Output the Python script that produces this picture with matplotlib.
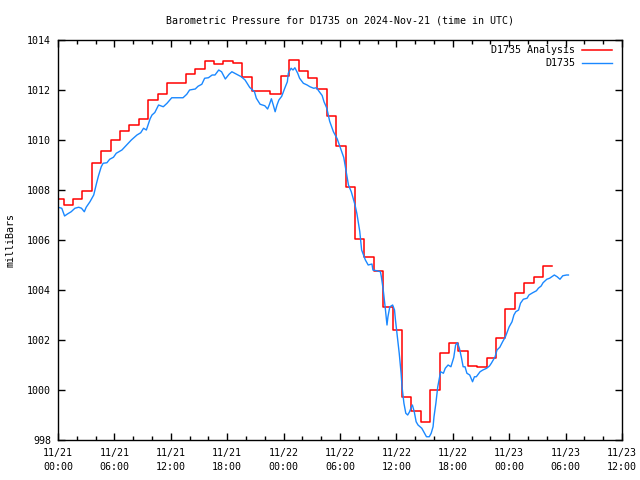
import matplotlib
matplotlib.use("Agg")
import matplotlib.pyplot as plt
from matplotlib.ticker import MultipleLocator

# hours since 2024-11-21 00:00 UTC
analysis_hours = [0.0, 0.6, 1.6, 2.6, 3.6, 4.6, 5.6, 6.6, 7.6, 8.6, 9.6, 10.6,
                  11.6, 13.6, 14.6, 15.6, 16.6, 17.6, 18.6, 19.6, 20.6, 22.6,
                  23.75, 24.6, 25.6, 26.6, 27.6, 28.6, 29.6, 30.6, 31.6, 32.6,
                  33.6, 34.6, 35.6, 36.6, 37.6, 38.6, 39.6, 40.6, 41.6, 42.6,
                  43.6, 44.6, 45.6, 46.6, 47.6, 48.6, 49.6, 50.6, 51.6, 52.5]
analysis_mb = [1007.63, 1007.40, 1007.64, 1007.96, 1009.08, 1009.56, 1009.99,
               1010.36, 1010.60, 1010.84, 1011.60, 1011.83, 1012.27, 1012.63,
               1012.85, 1013.16, 1013.06, 1013.16, 1013.07, 1012.51, 1011.95,
               1011.83, 1012.57, 1013.19, 1012.76, 1012.47, 1012.05, 1010.98,
               1009.77, 1008.14, 1006.04, 1005.33, 1004.76, 1003.31, 1002.40,
               999.73, 999.15, 998.71, 1000.00, 1001.48, 1001.87, 1001.56,
               1000.96, 1000.91, 1001.27, 1002.10, 1003.23, 1003.90, 1004.27,
               1004.52, 1004.96, 1004.96]

obs_hours = [0.0, 0.4, 0.7, 1.0, 1.4, 1.8, 2.2, 2.5, 2.8, 3.0, 3.4, 3.8, 4.1,
             4.3, 4.6, 4.8, 5.2, 5.5, 5.9, 6.2, 6.8, 7.3, 7.8, 8.4, 8.8, 9.1,
             9.4, 9.8, 10.0, 10.3, 10.7, 11.2, 11.6, 12.1, 12.8, 13.3, 13.7,
             14.0, 14.6, 14.9, 15.3, 15.6, 16.0, 16.4, 16.7, 17.1, 17.4, 17.8,
             18.2, 18.5, 19.0, 19.5, 19.9, 20.4, 20.9, 21.1, 21.5, 22.0, 22.3,
             22.5, 22.7, 22.9, 23.1, 23.3, 23.5, 23.8, 24.1, 24.4, 24.5, 24.8,
             25.0, 25.2, 25.5, 25.7, 26.1, 26.5, 26.8, 27.2, 27.5, 27.8, 28.1,
             28.3, 28.6, 28.9, 29.3, 29.7, 30.0, 30.4, 30.6, 30.9, 31.2, 31.6,
             31.8, 32.1, 32.3, 32.7, 33.0, 33.4, 33.5, 33.9, 34.3, 34.4, 34.6,
             34.8, 35.0, 35.1, 35.3, 35.6, 35.8, 35.9, 36.1, 36.3, 36.5, 36.6,
             36.8, 37.0, 37.2, 37.4, 37.6, 37.7, 37.9, 38.1, 38.3, 38.7, 39.0,
             39.2, 39.5, 39.7, 39.9, 40.0, 40.2, 40.4, 40.6, 40.7, 41.0, 41.2,
             41.5, 41.8, 42.1, 42.3, 42.5, 42.7, 42.9, 43.1, 43.3, 43.5, 43.8,
             44.1, 44.3, 44.5, 44.9, 45.2, 45.6, 45.9, 46.1, 46.5, 46.7, 47.0,
             47.3, 47.6, 47.8, 48.0, 48.3, 48.5, 48.7, 49.0, 49.2, 49.5, 49.9,
             50.1, 50.5, 50.9, 51.1, 51.4, 51.6, 52.0, 52.3, 52.8, 53.1, 53.4,
             53.7, 54.1, 54.3]
obs_mb = [1007.31, 1007.27, 1006.96, 1007.04, 1007.13, 1007.27, 1007.31,
          1007.27, 1007.13, 1007.31, 1007.53, 1007.80, 1008.27, 1008.56,
          1008.93, 1009.07, 1009.09, 1009.23, 1009.31, 1009.47, 1009.60,
          1009.80, 1010.00, 1010.20, 1010.29, 1010.47, 1010.40, 1010.85,
          1011.00, 1011.10, 1011.40, 1011.33, 1011.47, 1011.69, 1011.69,
          1011.69, 1011.83, 1012.00, 1012.04, 1012.15, 1012.23, 1012.47,
          1012.49, 1012.60, 1012.60, 1012.80, 1012.73, 1012.44, 1012.63,
          1012.73, 1012.63, 1012.53, 1012.40, 1012.10, 1011.93, 1011.67,
          1011.43, 1011.37, 1011.24, 1011.43, 1011.65, 1011.40, 1011.13,
          1011.40, 1011.60, 1011.75, 1012.05, 1012.33, 1012.67, 1012.87,
          1012.80, 1012.89, 1012.67, 1012.47, 1012.27, 1012.20, 1012.13,
          1012.07, 1012.09, 1011.93, 1011.78, 1011.53, 1011.27, 1010.75,
          1010.33, 1010.05, 1009.73, 1009.30, 1008.87, 1008.20, 1007.93,
          1007.40, 1007.05, 1006.35, 1005.60, 1005.20, 1005.00, 1005.04,
          1004.80, 1004.77, 1004.73, 1004.53, 1004.00, 1003.33, 1002.60,
          1002.93, 1003.33, 1003.40, 1003.20, 1002.80, 1002.13, 1001.47,
          1000.67, 1000.13, 999.47, 999.07, 999.00, 999.13, 999.33, 999.40,
          999.13, 998.73, 998.60, 998.47, 998.27, 998.13, 998.13, 998.27,
          998.53, 998.93, 999.47, 1000.13, 1000.53, 1000.73, 1000.67, 1000.87,
          1001.00, 1000.93, 1001.30, 1001.80, 1001.89, 1001.67, 1001.33,
          1000.93, 1000.93, 1000.67, 1000.60, 1000.33, 1000.53, 1000.53,
          1000.73, 1000.80, 1000.87, 1000.96, 1001.07, 1001.33, 1001.60,
          1001.71, 1001.93, 1002.13, 1002.33, 1002.53, 1002.73, 1003.00,
          1003.13, 1003.20, 1003.47, 1003.63, 1003.67, 1003.80, 1003.89,
          1003.97, 1004.07, 1004.16, 1004.29, 1004.43, 1004.47, 1004.60,
          1004.53, 1004.43, 1004.57, 1004.60, 1004.60]

xtick_hours = [0, 6, 12, 18, 24, 30, 36, 42, 48, 54, 60]
xtick_labels = ["11/21\n00:00", "11/21\n06:00", "11/21\n12:00", "11/21\n18:00",
                "11/22\n00:00", "11/22\n06:00", "11/22\n12:00", "11/22\n18:00",
                "11/23\n00:00", "11/23\n06:00", "11/23\n12:00"]

plt.rcParams["font.family"] = "DejaVu Sans Mono"
plt.rcParams["font.size"] = 7.2

fig = plt.figure(figsize=(6.4, 4.8), dpi=100)
ax = fig.add_axes([58 / 640, 40 / 480, 564 / 640, 400 / 480])

ax.plot(analysis_hours, analysis_mb, drawstyle="steps-post", color="#ff0000",
        lw=1.1, label="D1735 Analysis")
ax.plot(obs_hours, obs_mb, color="#1a88ff", lw=1.0, label="D1735")

ax.set_xlim(0, 60)
ax.set_ylim(998, 1014)
ax.set_xticks(xtick_hours)
ax.set_xticklabels(xtick_labels, linespacing=1.45)
ax.xaxis.set_minor_locator(MultipleLocator(2))
ax.set_yticks(range(998, 1015, 2))

ax.tick_params(which="both", direction="in", top=True, right=True,
               color="black", width=1)
ax.tick_params(which="major", length=5, pad=5)
ax.tick_params(which="minor", length=3)
ax.tick_params(axis="x", pad=6)
for s in ax.spines.values():
    s.set_linewidth(1)

ax.set_title("Barometric Pressure for D1735 on 2024-Nov-21 (time in UTC)",
             fontsize=7.2, pad=12)
fig.text(11 / 640, 0.5, "milliBars", rotation=90, ha="center", va="center")

ax.legend(loc="upper right", bbox_to_anchor=(1.0, 1.012), frameon=False,
          markerfirst=False, handlelength=3.0, handletextpad=0.7,
          labelspacing=0.3, borderaxespad=0.6)

fig.savefig("out.png", dpi=100)
